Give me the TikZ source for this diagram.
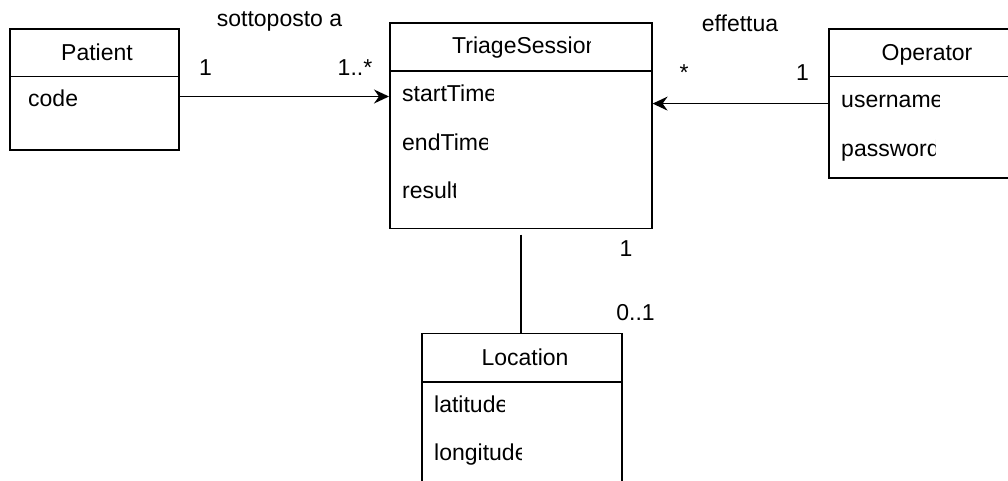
\documentclass[tikz,border=0pt]{standalone}
\usepackage{fontspec}
\setmainfont{Liberation Sans}
\usetikzlibrary{arrows.meta}
\tikzset{
  classbox/.style={draw, line width=1.6pt, inner sep=0pt, anchor=north west},
  txt/.style={inner sep=0pt, font=\fontsize{23}{27}\selectfont},
  lbl/.style={txt, anchor=base},
  attr/.style={txt, anchor=base west},
  assoc/.style={line width=1.6pt},
  nav/.style={assoc, -{Stealth[length=15pt, width=14pt, inset=5pt]}},
}
\begin{document}
\begin{tikzpicture}[x=1pt, y=-1pt]
\path[clip, use as bounding box] (0,0) rectangle (1008,481);

% class boxes
\node[classbox, minimum width=169pt, minimum height=121pt] (patient) at (9,28) {};
\node[classbox, minimum width=262pt, minimum height=205.7pt] (triage) at (389,22) {};
\node[classbox, minimum width=200pt, minimum height=149pt] (operator) at (828,28.3) {};
\node[classbox, minimum width=200pt, minimum height=170pt] (location) at (421,332.7) {};

% header separators
\draw[assoc] ([yshift=-48.7pt]patient.north west) -- ([yshift=-48.7pt]patient.north east);
\draw[assoc] ([yshift=-49pt]triage.north west) -- ([yshift=-49pt]triage.north east);
\draw[assoc] ([yshift=-48.4pt]operator.north west) -- ([yshift=-48.4pt]operator.north east);
\draw[assoc] ([yshift=-49pt]location.north west) -- ([yshift=-49pt]location.north east);

% class names (long names are cut at the label width)
\node[lbl] (patientname) at (97,60.7) {Patient};
\begin{scope}
  \clip (389,22) rectangle (590,71);
  \node[attr] (triagename) at (452,54) {TriageSession};
\end{scope}
\node[lbl] (operatorname) at (927,61) {Operator};
\node[lbl] (locationname) at (525,365.7) {Location};

% attributes
\node[attr] (code) at (28,106.7) {code};
\begin{scope}
  \clip (389,71) rectangle (493,120);
  \node[attr] (starttime) at (402,101.7) {startTime};
\end{scope}
\begin{scope}
  \clip (389,120) rectangle (487,170);
  \node[attr] (endtime) at (402,150) {endTime};
\end{scope}
\begin{scope}
  \clip (389,170) rectangle (455,220);
  \node[attr] (result) at (402,198) {result};
\end{scope}
\begin{scope}
  \clip (828,77) rectangle (939,130);
  \node[attr] (username) at (841,107.3) {username};
\end{scope}
\begin{scope}
  \clip (828,130) rectangle (935,176);
  \node[attr] (password) at (841,156.7) {password};
\end{scope}
\begin{scope}
  \clip (421,382) rectangle (504,430);
  \node[attr] (latitude) at (434,412.7) {latitude};
\end{scope}
\begin{scope}
  \clip (421,430) rectangle (521,481);
  \node[attr] (longitude) at (434,460.7) {longitude};
\end{scope}

% associations
\draw[nav] ([yshift=-7.2pt]patient.east) coordinate (pa) -- (pa -| triage.west);
\draw[nav] (operator.west) -- (operator.west -| triage.east);
\draw[assoc] ([yshift=-5.3pt]triage.south) coordinate (tl) -- (tl |- location.north);

% association names and multiplicities
\node[lbl] (subjectto) at (279.5,26.7) {sottoposto a};
\node[lbl] (mpatient) at (205.5,76) {1};
\node[lbl] (msession) at (355,76) {1..*};
\node[lbl] (performs) at (740,32) {effettua};
\node[lbl] (msessionop) at (684,81) {*};
\node[lbl] (moperator) at (802.5,81) {1};
\node[lbl] (msessionloc) at (626,256.7) {1};
\node[lbl] (mlocation) at (635.5,320) {0..1};
\end{tikzpicture}
\end{document}
